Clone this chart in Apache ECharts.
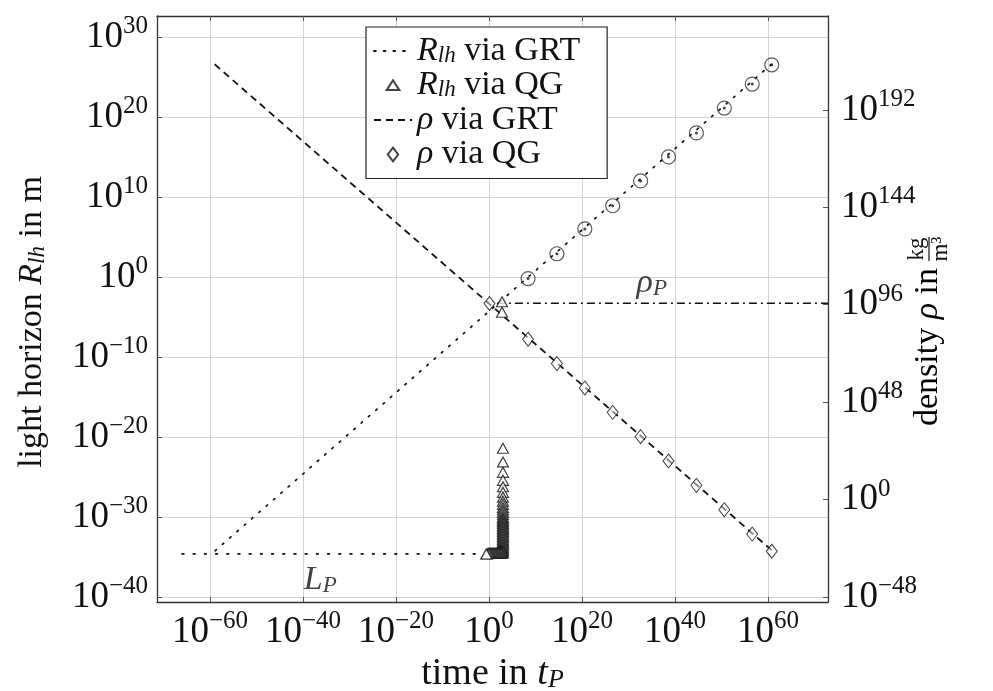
<!DOCTYPE html>
<html>
<head>
<meta charset="utf-8">
<script src="https://cdn.jsdelivr.net/npm/echarts@6/dist/echarts.min.js"></script>
<style>
  html, body { margin: 0; padding: 0; background: #fff; }
  #chart { width: 993px; height: 691px; }
</style>
</head>
<body>
<div id="chart"></div>
<script>
// all values are log10 exponents: [log10 t, log10 value]
const xTicks = [-60, -40, -20, 0, 20, 40, 60];
const leftTicks = [-40, -30, -20, -10, 0, 10, 20, 30];
const rightTicks = [-48, 0, 48, 96, 144, 192];

const grtRadius = [[-58.9, -34.2], [60.8, 26.6]];
const planckLength = [[-66.0, -34.6], [-1.3, -34.6]];
const qgRadiusLate = [[8.4, -0.2], [14.6, 2.9], [20.6, 6.0], [26.6, 8.9], [32.6, 12.0], [38.6, 15.0], [44.6, 18.0], [50.6, 21.1], [56.6, 24.1], [60.8, 26.5]];
const qgRadius = [
  [2.8, -3.1], [2.8, -4.4],
  [3.0, -21.4], [3.0, -23.1], [3.0, -24.4], [3.0, -25.4], [3.0, -26.2], [3.0, -26.9],
  [3.0, -27.5], [3.0, -28.0], [3.0, -28.4], [3.0, -28.8], [3.0, -29.1], [3.0, -29.4],
  [3.0, -29.7], [3.0, -30.0], [3.0, -30.2], [3.0, -30.4], [3.0, -30.6], [3.0, -30.8],
  [3.0, -31.0], [3.0, -31.2], [3.0, -31.4], [3.0, -31.6], [3.0, -31.8], [3.0, -32.0],
  [3.0, -32.2], [3.0, -32.4], [3.0, -32.6], [3.0, -32.8], [3.0, -33.0], [3.0, -33.2],
  [3.0, -33.4], [3.0, -33.6], [3.0, -33.8], [3.0, -34.0], [3.0, -34.2], [3.0, -34.4],
  [2.8, -34.2], [2.6, -34.3], [2.4, -34.3], [2.2, -34.4], [2.0, -34.4],
  [2.8, -34.5], [2.6, -34.5], [2.4, -34.5], [2.2, -34.5], [2.0, -34.5], [1.8, -34.5],
  [1.6, -34.5], [1.4, -34.5], [1.2, -34.5], [1.0, -34.5], [0.8, -34.5], [0.6, -34.5],
  [0.4, -34.5], [0.2, -34.5], [0.0, -34.5], [-0.2, -34.5], [-0.4, -34.6], [-0.6, -34.6]
];
const grtDensity = [[-59.0, 214.5], [60.8, -25.0]];
const qgDensity = [[0.1, 96.6], [8.4, 79.0], [14.6, 67.0], [20.6, 55.0], [26.6, 43.0], [32.6, 31.0], [38.6, 19.0], [44.6, 7.0], [50.6, -5.0], [56.6, -17.0], [60.8, -25.5]];
const planckDensity = [[1.7, 96.7], [72.9, 96.7]];
const annotations = [
  { value: [35.0, -0.8], text: '{i|ρ}{sub|P}' },
  { value: [-36.3, -37.9], text: '{i|L}{sub|P}' }
];

const FONT = "'Liberation Serif', 'DejaVu Serif', serif";
const INK = '#111';

const expRich = {
  b: { fontFamily: FONT, fontSize: 37, color: INK, lineHeight: 46 },
  s: { fontFamily: FONT, fontSize: 25, color: INK, lineHeight: 25, verticalAlign: 'top' }
};
function expLabel(v) {
  const e = Math.round(v);
  return '{b|10}{s|' + (e < 0 ? '\u2212' + (-e) : e) + '}';
}

function makeRich(size, lh) {
  return {
    n: { fontFamily: FONT, fontSize: size, color: INK, lineHeight: lh },
    i: { fontFamily: FONT, fontSize: size, fontStyle: 'italic', color: INK, lineHeight: lh },
    sub: { fontFamily: FONT, fontSize: Math.round(size * 0.68), fontStyle: 'italic', color: INK, lineHeight: Math.round(lh * 0.5), verticalAlign: 'bottom' }
  };
}
const mathRich = makeRich(34, 34);
const legendRich = makeRich(34, 32);
const xNameRich = makeRich(38, 38);

const legendText = {
  'R_lh via GRT': '{i|R}{sub|lh}{n| via GRT}',
  'R_lh via QG': '{i|R}{sub|lh}{n| via QG}',
  'ρ via GRT': '{i|ρ}{n| via GRT}',
  'ρ via QG': '{i|ρ}{n| via QG}'
};
const noMarker = { color: 'rgba(0,0,0,0)', borderColor: 'rgba(0,0,0,0)', borderWidth: 0 };

const chart = echarts.init(document.getElementById('chart'), null, { renderer: 'canvas' });

const option = {
  backgroundColor: '#fff',
  animation: false,
  grid: { left: 157, right: 165, top: 16, bottom: 89, outerBoundsMode: 'none', containLabel: false },
  legend: {
    data: [
      { name: 'R_lh via GRT', itemStyle: noMarker },
      { name: 'R_lh via QG', icon: 'path://M0,0M13,13M1,10.5L6.5,2L12,10.5Z' },
      { name: 'ρ via GRT', itemStyle: noMarker },
      { name: 'ρ via QG', icon: 'path://M0,0M13,13M6.5,0.5L11,6.5L6.5,12.5L2,6.5Z' }
    ],
    orient: 'vertical',
    left: 366,
    top: 27,
    padding: [7, 27, 7, 7],
    itemGap: 0.5,
    itemWidth: 38,
    itemHeight: 15,
    borderColor: '#222',
    borderWidth: 1.2,
    backgroundColor: '#fff',
    formatter: name => legendText[name],
    textStyle: { rich: legendRich }
  },
  xAxis: [{
    type: 'value',
    min: -71.4,
    max: 72.9,
    name: '{n|time in }{i|t}{sub|P}',
    nameLocation: 'middle',
    nameGap: 51,
    nameTextStyle: { rich: xNameRich },
    axisLine: { show: true, onZero: false, lineStyle: { color: '#333', width: 1.3 } },
    axisTick: { show: true, inside: true, length: 5, customValues: xTicks, lineStyle: { color: '#555' } },
    axisLabel: { customValues: xTicks, formatter: expLabel, rich: expRich, margin: 7 },
    splitLine: { show: true, lineStyle: { color: '#d4d4d4', width: 1 } }
  }, {
    type: 'value',
    position: 'top',
    min: -71.4,
    max: 72.9,
    axisLine: { show: true, onZero: false, lineStyle: { color: '#333', width: 1.3 } },
    axisTick: { show: true, inside: true, length: 5, customValues: xTicks, lineStyle: { color: '#555' } },
    axisLabel: { show: false },
    splitLine: { show: false }
  }],
  yAxis: [{
    type: 'value',
    position: 'left',
    min: -40.6,
    max: 32.6,
    name: '{n|light horizon }{i|R}{sub|lh}{n| in m}',
    nameLocation: 'middle',
    nameGap: 108,
    nameTextStyle: { rich: mathRich, padding: [0, 26, 0, 0] },
    axisLine: { show: true, onZero: false, lineStyle: { color: '#333', width: 1.3 } },
    axisTick: { show: true, inside: true, length: 5, customValues: leftTicks, lineStyle: { color: '#555' } },
    axisLabel: { customValues: leftTicks, formatter: expLabel, rich: expRich, margin: 9 },
    splitLine: { show: true, lineStyle: { color: '#d4d4d4', width: 1 } }
  }, {
    type: 'value',
    position: 'right',
    min: -50.5,
    max: 238.3,
    axisLine: { show: true, onZero: false, lineStyle: { color: '#333', width: 1.3 } },
    axisTick: { show: true, inside: true, length: 5, customValues: rightTicks, lineStyle: { color: '#555' } },
    axisLabel: { customValues: rightTicks, formatter: expLabel, rich: expRich, margin: 13 },
    splitLine: { show: false }
  }],
  graphic: [{
    type: 'group',
    x: 928,
    y: 426,
    rotation: Math.PI / 2,
    children: [{
      type: 'text',
      x: 0,
      y: 0,
      style: {
        text: '{n|density }{i|ρ}{n| in}',
        rich: mathRich,
        verticalAlign: 'middle',
        align: 'left'
      }
    }, {
      type: 'text',
      x: 177,
      y: -11,
      style: { text: 'kg', font: '23px ' + FONT, fill: INK, align: 'center', verticalAlign: 'middle' }
    }, {
      type: 'line',
      shape: { x1: 165, y1: 1, x2: 189, y2: 1 },
      style: { stroke: INK, lineWidth: 1.2 }
    }, {
      type: 'text',
      x: 177,
      y: 13,
      style: { text: 'm³', font: '23px ' + FONT, fill: INK, align: 'center', verticalAlign: 'middle' }
    }]
  }],
  series: [{
    name: 'R_lh via GRT',
    type: 'line',
    data: grtRadius,
    showSymbol: false,
    symbol: 'none',
    lineStyle: { color: INK, width: 1.7, type: [1.7, 8], cap: 'round' },
    itemStyle: { color: INK },
    z: 3
  }, {
    name: 'planck length',
    type: 'line',
    data: planckLength,
    symbol: 'none',
    lineStyle: { color: INK, width: 1.7, type: [1.7, 9.5], cap: 'round' },
    z: 3
  }, {
    name: 'R_lh via QG',
    type: 'scatter',
    data: qgRadius,
    symbol: 'triangle',
    symbolSize: [11, 10],
    itemStyle: { color: '#fff', borderColor: INK, borderWidth: 1.2 },
    z: 4
  }, {
    name: 'R_lh late',
    type: 'scatter',
    data: qgRadiusLate,
    symbol: 'circle',
    symbolSize: 14,
    itemStyle: { color: 'rgba(0,0,0,0)', borderColor: '#333', borderWidth: 1.2 },
    z: 4
  }, {
    name: 'R_lh late dot',
    type: 'scatter',
    data: qgRadiusLate,
    symbol: 'circle',
    symbolSize: 3,
    itemStyle: { color: INK },
    z: 4
  }, {
    name: 'ρ via GRT',
    type: 'line',
    yAxisIndex: 1,
    data: grtDensity,
    symbol: 'none',
    lineStyle: { color: INK, width: 1.8, type: [7, 5] },
    itemStyle: { color: INK },
    z: 3
  }, {
    name: 'ρ via QG',
    type: 'scatter',
    yAxisIndex: 1,
    data: qgDensity,
    symbol: 'diamond',
    symbolSize: [11, 14],
    itemStyle: { color: 'rgba(255,255,255,0.6)', borderColor: INK, borderWidth: 1 },
    z: 4
  }, {
    name: 'planck density',
    type: 'line',
    yAxisIndex: 1,
    data: planckDensity,
    symbol: 'none',
    lineStyle: { color: INK, width: 1.6, type: [8, 4, 2, 4] },
    z: 3
  }, {
    name: 'annotations',
    type: 'scatter',
    data: annotations,
    symbolSize: 0,
    silent: true,
    label: {
      show: true,
      position: 'inside',
      formatter: p => p.data.text,
      rich: mathRich
    },
    z: 5
  }]
};

chart.setOption(option);
</script>
</body>
</html>
